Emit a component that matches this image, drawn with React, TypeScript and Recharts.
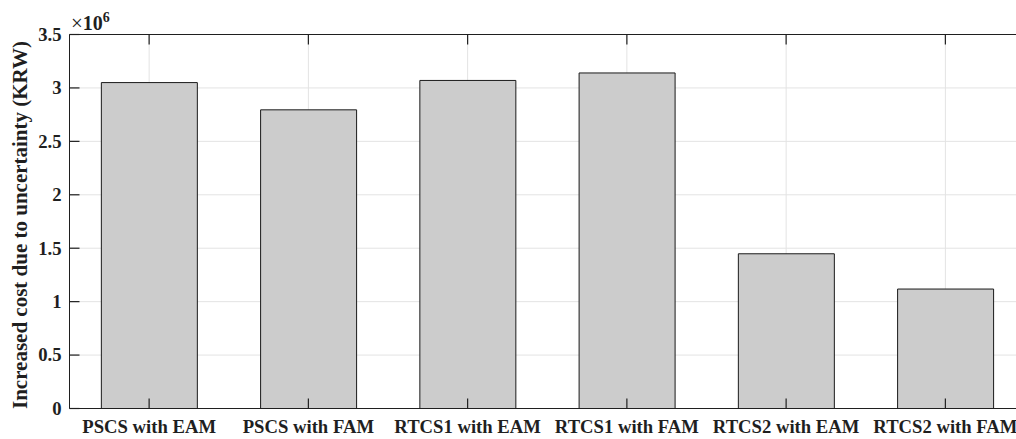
import React from 'react';
import { BarChart, Bar, XAxis, YAxis, CartesianGrid } from 'recharts';

const categories = [
  'PSCS with EAM',
  'PSCS with FAM',
  'RTCS1 with EAM',
  'RTCS1 with FAM',
  'RTCS2 with EAM',
  'RTCS2 with FAM',
];
const costs = [3.05e6, 2.795e6, 3.07e6, 3.14e6, 1.448e6, 1.118e6];
const yTicks = [0, 0.5e6, 1e6, 1.5e6, 2e6, 2.5e6, 3e6, 3.5e6];
const yTickLabels = ['0', '0.5', '1', '1.5', '2', '2.5', '3', '3.5'];
const yTitle = 'Increased cost due to uncertainty (KRW)';
const exponentTimes = '\u00d7';
const exponentBase = '10';
const exponent = '6';

const data = categories.map((name, i) => ({ name, cost: costs[i] }));

const FONT = '"Liberation Serif", "Times New Roman", serif';
const INK = '#1f1f1f';
const FS = 18.67;
const TICK_LEN = 10;
const MB = 11.5;
const ML = 8;

const fmtY = (v: number) => {
  const i = yTicks.indexOf(v);
  return i >= 0 ? yTickLabels[i] : String(v / 1e6);
};

const BottomTick = (props: any) => {
  const { x, y, payload } = props;
  const axisY = y - MB;
  return (
    <g>
      <line x1={x} x2={x} y1={axisY} y2={axisY - TICK_LEN} stroke={INK} strokeWidth={1.2} />
      <text x={x} y={y} dy="0.71em" textAnchor="middle" fill={INK} fontSize={FS} fontWeight="bold" fontFamily={FONT}>
        {payload.value}
      </text>
    </g>
  );
};

const LeftTick = (props: any) => {
  const { x, y, payload } = props;
  const axisX = x + ML;
  return (
    <g>
      <line x1={axisX} x2={axisX + TICK_LEN} y1={y} y2={y} stroke={INK} strokeWidth={1.2} />
      <text x={x} y={y} dy="0.34em" textAnchor="end" fill={INK} fontSize={FS} fontWeight="bold" fontFamily={FONT}>
        {fmtY(payload.value)}
      </text>
    </g>
  );
};

const TopTick = (props: any) => {
  const { x, y } = props;
  return <line x1={x} x2={x} y1={y} y2={y + TICK_LEN} stroke={INK} strokeWidth={1.2} />;
};

const RightTick = (props: any) => {
  const { x, y } = props;
  return <line x1={x} x2={x - TICK_LEN} y1={y} y2={y} stroke={INK} strokeWidth={1.2} />;
};

export default function App() {
  return (
    <div style={{ position: 'fixed', left: 0, top: 0, width: 1016, height: 439, overflow: 'hidden', background: '#ffffff' }}>
      <BarChart
        width={1030}
        height={439}
        data={data}
        margin={{ top: 33.5, right: 4, bottom: 0.5, left: 0 }}
        barCategoryGap="20%"
      >
        <CartesianGrid xAxisId="bottom" yAxisId="left" stroke="#e3e3e3" strokeWidth={1} />
        <Bar xAxisId="bottom" yAxisId="left" dataKey="cost" fill="#cccccc" stroke="#1a1a1a" strokeWidth={1} isAnimationActive={false} />
        <XAxis xAxisId="bottom" dataKey="name" orientation="bottom" height={30} interval={0} tickSize={0} tickMargin={MB} tickLine={false} axisLine={{ stroke: INK, strokeWidth: 1 }} tick={<BottomTick />} />
        <XAxis xAxisId="top" dataKey="name" orientation="top" height={1} interval={0} tickSize={0} tickMargin={0} tickLine={false} axisLine={{ stroke: INK, strokeWidth: 1 }} tick={<TopTick />} />
        <YAxis yAxisId="left" orientation="left" width={69.5} domain={[0, 3.5e6]} ticks={yTicks} interval={0} tickSize={0} tickMargin={ML} tickLine={false} axisLine={{ stroke: INK, strokeWidth: 1 }} tick={<LeftTick />} />
        <YAxis yAxisId="right" orientation="right" width={1} domain={[0, 3.5e6]} ticks={yTicks} interval={0} tickSize={0} tickMargin={0} tickLine={false} axisLine={{ stroke: INK, strokeWidth: 1 }} tick={<RightTick />} />
      </BarChart>
      <svg width={1016} height={439} style={{ position: 'absolute', left: 0, top: 0, pointerEvents: 'none' }}>
        <text x={27} y={225} transform="rotate(-90 27 225)" textAnchor="middle" fill={INK} fontSize={21} fontWeight="bold" fontFamily={FONT}>
          {yTitle}
        </text>
        <text x={71} y={29.5} fill={INK} fontFamily={FONT}>
          <tspan fontSize={21}>{exponentTimes}</tspan>
          <tspan fontSize={20} fontWeight="bold">{exponentBase}</tspan>
          <tspan fontSize={14} fontWeight="bold" dy={-8}>{exponent}</tspan>
        </text>
      </svg>
    </div>
  );
}
